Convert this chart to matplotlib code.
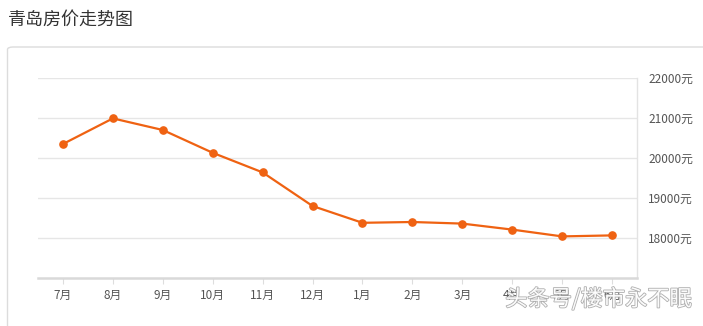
import matplotlib
matplotlib.use("Agg")
import matplotlib.pyplot as plt
from matplotlib.patches import FancyBboxPatch
import matplotlib.patheffects as pe

plt.rcParams['font.family'] = ['Noto Sans CJK SC', 'DejaVu Sans']

title = "青岛房价走势图"
months = ["7月", "8月", "9月", "10月", "11月", "12月", "1月", "2月", "3月", "4月", "5月", "6月"]
prices = [20350, 20990, 20700, 20130, 19640, 18800, 18380, 18400, 18360, 18210, 18040, 18065]
yticks = [18000, 19000, 20000, 21000, 22000]
ytick_labels = ["18000元", "19000元", "20000元", "21000元", "22000元"]
watermark = "头条号/楼市永不眠"

W, H = 703, 326
fig = plt.figure(figsize=(W / 100, H / 100), dpi=100)
fig.patch.set_facecolor("white")

# card border
card = FancyBboxPatch((7.5 / W, -20 / H), 720 / W, (326 - 47 + 20) / H,
                      boxstyle="round,pad=0,rounding_size=0.008",
                      transform=fig.transFigure, facecolor="none",
                      edgecolor="#dcdcdc", linewidth=1.0, zorder=-10)
fig.patches.append(card)

fig.text(8 / W, 1 - 20 / H, title, fontsize=13, color="#333333",
         ha="left", va="center")

ax = fig.add_axes([38 / W, (326 - 278) / H, 599 / W, 200 / H])
ax.set_zorder(5)
ax.set_facecolor("none")
x = list(range(len(months)))
ax.plot(x, prices, color="#ef6212", linewidth=1.6, marker="o",
        markersize=5.2, markeredgecolor="#ef6212", markerfacecolor="#ef6212",
        zorder=3, clip_on=False)

ax.set_xlim(-0.5, len(months) - 0.5)
ax.set_ylim(17000, 22000)
ax.set_xticks(x)
ax.set_xticklabels(months)
ax.set_yticks(yticks)
ax.set_yticklabels(ytick_labels)
ax.yaxis.tick_right()
ax.tick_params(axis="y", length=0, pad=8, labelsize=8.5, labelcolor="#555555")
ax.tick_params(axis="x", length=4, width=0.8, color="#dddddd", pad=4,
               labelsize=8.5, labelcolor="#555555")
ax.grid(axis="y", color="#e6e6e6", linewidth=1.0)
ax.set_axisbelow(True)
for s in ["left", "top"]:
    ax.spines[s].set_visible(False)
ax.spines["right"].set_color("#e3e3e3")
ax.spines["right"].set_linewidth(1.0)
ax.spines["bottom"].set_color("#d9d9d9")
ax.spines["bottom"].set_linewidth(1.8)

wm = fig.text(692 / W, 1 - 299 / H, watermark, fontsize=16, color="white",
              ha="right", va="center", alpha=0.95, zorder=20,
              path_effects=[pe.withStroke(linewidth=1.2, foreground="#aaaaaa")])

fig.savefig("out.png", dpi=100, facecolor="white")
